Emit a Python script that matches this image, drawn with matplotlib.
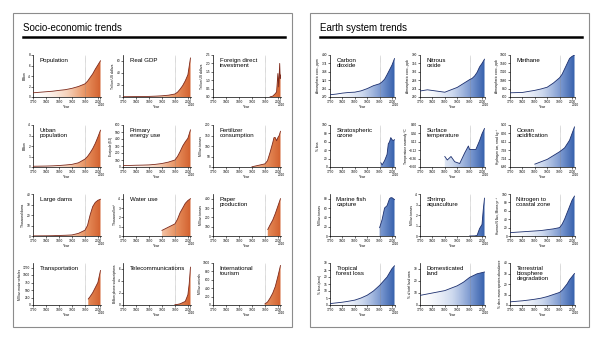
import numpy as np
import matplotlib
matplotlib.use('Agg')
import matplotlib.pyplot as plt
from matplotlib.colors import LinearSegmentedColormap
from matplotlib.patches import Rectangle

plt.rcParams['font.family'] = ['Liberation Sans', 'DejaVu Sans']

# shared sampling years for most series
years = [1750, 1775, 1800, 1825, 1850, 1875, 1900, 1925, 1950,
         1960, 1970, 1980, 1990, 2000, 2010]

# socio-economic trends
population = [0.8, 0.9, 1.0, 1.1, 1.26, 1.4, 1.65, 2.0, 2.5, 3.0, 3.7, 4.4, 5.3, 6.1, 6.9]
real_gdp = [0.5, 0.6, 0.7, 0.8, 1.0, 1.4, 2.0, 3.0, 5.0, 8.0, 13, 19, 27, 37, 65]
fdi_years = [1970, 1980, 1990, 1995, 2000, 2003, 2007, 2009, 2010]
fdi = [0.01, 0.05, 0.2, 0.3, 1.4, 0.6, 2.0, 1.1, 1.3]
urban_pop = [0.07, 0.08, 0.09, 0.11, 0.14, 0.19, 0.25, 0.4, 0.75, 1.0, 1.35, 1.75, 2.25, 2.85, 3.5]
energy = [20, 22, 25, 27, 30, 38, 50, 70, 100, 150, 220, 300, 360, 410, 530]
fert_years = [1900, 1950, 1960, 1970, 1980, 1985, 1990, 1995, 2000, 2005, 2010]
fertilizer = [1, 15, 30, 70, 115, 140, 140, 125, 140, 150, 170]
dams = [0.1, 0.15, 0.2, 0.3, 0.5, 0.7, 1.0, 2.5, 5.5, 10, 20, 28, 32, 34, 35]
water_years = [1900, 1950, 1960, 1970, 1980, 1990, 2000, 2010]
water = [0.6, 1.3, 1.8, 2.5, 3.0, 3.5, 3.8, 4.0]
paper_years = [1961, 1970, 1980, 1990, 2000, 2010]
paper = [70, 120, 170, 240, 320, 400]
transport_years = [1963, 1970, 1980, 1990, 2000, 2010]
transport = [200, 280, 410, 580, 750, 1150]
tele_years = [1950, 1960, 1970, 1980, 1990, 2000, 2005, 2010]
telecom = [0.05, 0.1, 0.2, 0.4, 0.6, 1.7, 3.5, 6.3]
tour_years = [1950, 1960, 1970, 1980, 1990, 2000, 2010]
tourism = [25, 70, 165, 280, 440, 680, 940]

# earth system trends
co2 = [277, 279, 282, 284, 285, 289, 296, 305, 311, 317, 325, 339, 354, 369, 389]
n2o_years = [1750, 1780, 1850, 1900, 1950, 1960, 1970, 1980, 1990, 2000, 2010]
n2o = [270, 272, 268, 276, 289, 291, 295, 301, 310, 316, 323]
methane = [720, 725, 730, 760, 790, 830, 880, 1000, 1150, 1250, 1400, 1550, 1700, 1760, 1800]
ozone_years = [1955, 1960, 1970, 1980, 1985, 1990, 1995, 2000, 2005, 2010]
ozone = [10, 5, 15, 30, 55, 60, 70, 65, 63, 65]
temp_years = [1850, 1860, 1875, 1890, 1910, 1930, 1945, 1950, 1975, 1990, 2000, 2010]
temperature = [-0.3, -0.4, -0.3, -0.45, -0.5, -0.2, 0.0, -0.1, -0.1, 0.15, 0.35, 0.5]
ocean_years = [1850, 1900, 1950, 1970, 1990, 2010]
ocean = [6.95, 7.2, 7.6, 7.8, 8.2, 8.9]
fish_years = [1950, 1960, 1970, 1980, 1990, 1995, 2000, 2010]
fish = [18, 35, 60, 65, 80, 82, 82, 78]
shrimp_years = [1950, 1970, 1980, 1990, 2000, 2005, 2010]
shrimp = [0.0, 0.01, 0.05, 0.7, 1.1, 2.5, 3.6]
nitrogen = [8, 9, 10, 11, 12, 13, 15, 17, 20, 28, 40, 55, 70, 85, 95]
forest_loss = [1, 1.5, 2, 2.7, 3.5, 5, 7, 10, 14, 16, 18, 20, 23, 26, 28]
dom_land = [8, 9, 10, 11, 12, 14, 16, 19, 23, 24, 25, 26, 26.5, 27, 27.5]
biosphere = [3, 3.5, 4, 4.7, 5.5, 6.5, 8, 10, 12, 14, 17, 20, 24, 27, 30]

socio = [
    ('Population', 'Billion', years, population, (0, 8)),
    ('Real GDP', 'Trillion US dollars', years, real_gdp, (0, 70)),
    ('Foreign direct\ninvestment', 'Trillion US dollars', fdi_years, fdi, (0, 2.5)),
    ('Urban\npopulation', 'Billion', years, urban_pop, (0, 4)),
    ('Primary\nenergy use', 'Exajoule (EJ)', years, energy, (0, 600)),
    ('Fertilizer\nconsumption', 'Million tonnes', fert_years, fertilizer, (0, 200)),
    ('Large dams', 'Thousand dams', years, dams, (0, 40)),
    ('Water use', 'Thousand km³', water_years, water, (0, 4.5)),
    ('Paper\nproduction', 'Million tonnes', paper_years, paper, (0, 450)),
    ('Transportation', 'Million motor vehicles', transport_years, transport, (0, 1400)),
    ('Telecommunications', 'Billion phone subscriptions', tele_years, telecom, (0, 7)),
    ('International\ntourism', 'Million arrivals', tour_years, tourism, (0, 1000)),
]
earth = [
    ('Carbon\ndioxide', 'Atmospheric conc., ppm', years, co2, (270, 400)),
    ('Nitrous\noxide', 'Atmospheric conc., ppb', n2o_years, n2o, (260, 330)),
    ('Methane', 'Atmospheric conc., ppb', years, methane, (600, 1800)),
    ('Stratospheric\nozone', '% loss', ozone_years, ozone, (0, 100)),
    ('Surface\ntemperature', 'Temperature anomaly °C', temp_years, temperature, (-0.6, 0.6)),
    ('Ocean\nacidification', 'Hydrogen ion, nmol kg⁻¹', ocean_years, ocean, (6.8, 9.0)),
    ('Marine fish\ncapture', 'Million tonnes', fish_years, fish, (0, 90)),
    ('Shrimp\naquaculture', 'Million tonnes', shrimp_years, shrimp, (0, 4)),
    ('Nitrogen to\ncoastal zone', 'Human N flux, Mtons yr⁻¹', years, nitrogen, (0, 100)),
    ('Tropical\nforest loss', '% loss (area)', years, forest_loss, (0, 30)),
    ('Domesticated\nland', '% of total land area', years, dom_land, (0, 35)),
    ('Terrestrial\nbiosphere\ndegradation', '% decr. mean species abundance', years, biosphere, (0, 40)),
]

W, H = 601, 341
fig = plt.figure(figsize=(W / 100, H / 100), dpi=100)


def px(x, y, w, h):
    return [x / W, 1 - (y + h) / H, w / W, h / H]


def draw(ax, title, ylab, xs, ys, ylim, cmap, line_col):
    xs = np.array(xs, float)
    ys = np.array(ys, float)
    grad = np.linspace(0, 1, 256) ** 1.6
    img = ax.imshow(grad[None, :], cmap=cmap, aspect='auto',
                    extent=[1750, 2010, ylim[0], ylim[1]], origin='lower', zorder=1)
    poly = ax.fill_between(xs, ylim[0], ys, color='none', lw=0)
    img.set_clip_path(poly.get_paths()[0], transform=ax.transData)
    ax.plot(xs, ys, color=line_col, lw=0.6, zorder=3)
    ax.axvline(1950, color='#888888', lw=0.4, ls=(0, (1, 1)), zorder=2)
    ax.set_xlim(1750, 2012)
    ax.set_ylim(*ylim)
    ax.set_xticks([1750, 1800, 1850, 1900, 1950, 2000, 2010])
    ax.set_xticklabels(['1750', '1800', '1850', '1900', '1950', '2000', ''])
    ax.annotate('2010', xy=(2010, 0), xycoords=('data', 'axes fraction'),
                xytext=(0.5, -4.6), textcoords='offset points',
                fontsize=2.3, ha='center', va='top')
    ax.tick_params(labelsize=2.3, length=1.2, width=0.4, pad=0.8)
    if ylim[0] != 0:
        ax.set_yticks(np.linspace(ylim[0], ylim[1], 6))
    ax.set_ylim(*ylim)
    for s in ['top', 'right']:
        ax.spines[s].set_visible(False)
    for s in ['left', 'bottom']:
        ax.spines[s].set_linewidth(0.5)
    ax.set_xlabel('Year', fontsize=2.5, labelpad=1)
    ax.set_ylabel(ylab, fontsize=2.3, labelpad=1)
    ax.text(0.1, 0.93, title, transform=ax.transAxes, fontsize=4.4,
            va='top', ha='left', linespacing=0.95, zorder=4)


orange = LinearSegmentedColormap.from_list('o', ['#ffffff', '#f6d2bb', '#e8915f', '#d2602e'])
blue = LinearSegmentedColormap.from_list('b', ['#ffffff', '#ccd8ee', '#7c99d0', '#3560ac'])

panels = [
    (13, 'Socio-economic trends', socio, [33, 123, 213], 68, orange, '#7d2a1c'),
    (310, 'Earth system trends', earth, [330, 420, 510], 65, blue, '#1c2f6e'),
]
row_tops = [55, 125, 194, 263]

for left, ptitle, specs, cols, aw, cmap, lc in panels:
    fig.patches.append(Rectangle((left / W, 1 - 327 / H), 279 / W, 314 / H,
                                 transform=fig.transFigure, fill=False,
                                 ec='#8c8c8c', lw=0.8))
    fig.text((left + 10) / W, 1 - 28 / H, ptitle, fontsize=7, va='center', ha='left')
    fig.add_artist(plt.Line2D([(left + 10) / W, (left + 272) / W],
                              [1 - 37 / H, 1 - 37 / H], color='black', lw=1.8,
                              transform=fig.transFigure))
    for i, (t, yl, xs, ys, lim) in enumerate(specs):
        r, c = divmod(i, 3)
        ax = fig.add_axes(px(cols[c], row_tops[r], aw, 42))
        draw(ax, t, yl, xs, ys, lim, cmap, lc)

fig.savefig('out.png', dpi=100)
